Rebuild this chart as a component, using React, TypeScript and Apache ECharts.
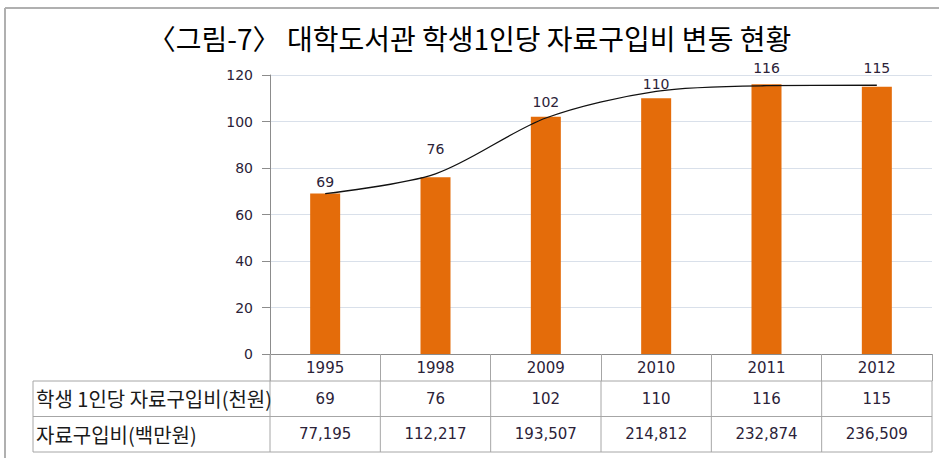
import React, { useEffect, useRef } from "react";
import * as echarts from "echarts";

const titleText = "〈그림-7〉 대학도서관 학생1인당 자료구입비 변동 현황";
const years = ["1995", "1998", "2009", "2010", "2011", "2012"];
const perStudent = [69, 76, 102, 110, 116, 115];
const totalBudget = ["77,195", "112,217", "193,507", "214,812", "232,874", "236,509"];
const trendLine = [69, 77.5, 101.5, 113, 115.4, 115.6];
const rowLabels = ["학생 1인당 자료구입비(천원)", "자료구입비(백만원)"];
const yMax = 120;
const yStep = 20;

const W = 939;
const H = 458;

export default function App() {
  const ref = useRef<HTMLDivElement>(null);

  useEffect(() => {
    if (!ref.current) return;
    const chart = echarts.init(ref.current, undefined, { renderer: "svg", width: W, height: H });
    const labelDist = [5, 21, 8, 7, 9, 12];
    const gridLeft = 270;
    const gridRight = 7;
    const gridTop = 75;
    const gridBottom = 104;
    const font = "'DejaVu Sans', 'Noto Sans CJK KR', sans-serif";

    chart.setOption({
      animation: false,
      backgroundColor: "#ffffff",
      title: {
        text: titleText,
        left: "center",
        top: 19,
        textStyle: {
          fontFamily: "'Noto Sans CJK KR', sans-serif",
          fontSize: 28,
          fontWeight: "normal",
          color: "#000000",
        },
      },
      grid: { left: gridLeft, right: gridRight, top: gridTop, bottom: gridBottom },
      xAxis: {
        type: "category",
        data: years,
        boundaryGap: true,
        axisLine: { show: true, lineStyle: { color: "#8c8c8c", width: 1 } },
        axisTick: { show: true, length: 27, lineStyle: { color: "#a6a6a6" } },
        axisLabel: {
          margin: 6,
          fontFamily: font,
          fontSize: 15,
          color: "#2b2238",
        },
      },
      yAxis: {
        type: "value",
        min: 0,
        max: yMax,
        interval: yStep,
        axisLine: { show: true, lineStyle: { color: "#8c8c8c", width: 1 } },
        axisTick: { show: true, length: 8, lineStyle: { color: "#8c8c8c" } },
        axisLabel: {
          margin: 17,
          fontFamily: font,
          fontSize: 14,
          color: "#2b2238",
        },
        splitLine: { show: true, lineStyle: { color: "#d9e0ea", width: 1 } },
      },
      series: [
        {
          type: "bar",
          data: perStudent.map((v, i) => ({
            value: v,
            label: { distance: labelDist[i] },
          })),
          barWidth: 30,
          itemStyle: { color: "#e46c0a" },
          label: {
            show: true,
            position: "top",
            fontFamily: font,
            fontSize: 14,
            color: "#2b2238",
          },
        },
        {
          type: "line",
          data: trendLine,
          smooth: 0.3,
          showSymbol: false,
          symbol: "none",
          lineStyle: { color: "#111111", width: 1.3 },
          z: 5,
        },
      ],
    });

    const xs = years.map((_, i) => chart.convertToPixel({ xAxisIndex: 0 }, i) as number);
    const band = xs.length > 1 ? xs[1] - xs[0] : 110;
    const bounds = [xs[0] - band / 2, ...xs.map((x) => x + band / 2)];
    const y0 = chart.convertToPixel({ yAxisIndex: 0 }, 0) as number;
    const rowH = 35.5;
    const r1 = y0 + 27;
    const r2 = r1 + rowH;
    const r3 = r2 + rowH;
    const tableLeft = 33;
    const right = bounds[bounds.length - 1];
    const lineStyle = { stroke: "#a6a6a6", lineWidth: 1 };

    const elements: any[] = [];
    elements.push({ type: "line", shape: { x1: 5, y1: 8, x2: W, y2: 8 }, style: { stroke: "#b0b0b0", lineWidth: 2 } });
    elements.push({ type: "line", shape: { x1: 5, y1: 8, x2: 5, y2: H }, style: { stroke: "#b0b0b0", lineWidth: 2 } });
    elements.push({ type: "line", shape: { x1: bounds[0], y1: y0, x2: bounds[0], y2: r1 }, style: lineStyle });
    [r1, r2, r3].forEach((y) => {
      elements.push({ type: "line", shape: { x1: tableLeft, y1: y, x2: right, y2: y }, style: lineStyle });
    });
    [tableLeft, ...bounds].forEach((x) => {
      elements.push({ type: "line", shape: { x1: x, y1: r1, x2: x, y2: r3 }, style: lineStyle });
    });
    const rows = [perStudent.map(String), totalBudget];
    rows.forEach((vals, ri) => {
      const top = ri === 0 ? r1 : r2;
      elements.push({
        type: "text",
        x: tableLeft + 3,
        y: top + rowH / 2,
        style: {
          text: rowLabels[ri],
          fontFamily: "'Noto Sans CJK KR', sans-serif",
          fontSize: 20,
          fill: "#1a1a1a",
          align: "left",
          verticalAlign: "middle",
        },
      });
      vals.forEach((v, i) => {
        elements.push({
          type: "text",
          x: xs[i],
          y: top + rowH / 2,
          style: {
            text: v,
            fontFamily: font,
            fontSize: 15,
            fill: "#2b2238",
            align: "center",
            verticalAlign: "middle",
          },
        });
      });
    });

    chart.setOption({ graphic: elements });

    return () => chart.dispose();
  }, []);

  return (
    <div
      ref={ref}
      style={{ position: "fixed", left: 0, top: 0, width: W, height: H, background: "#fff" }}
    />
  );
}
